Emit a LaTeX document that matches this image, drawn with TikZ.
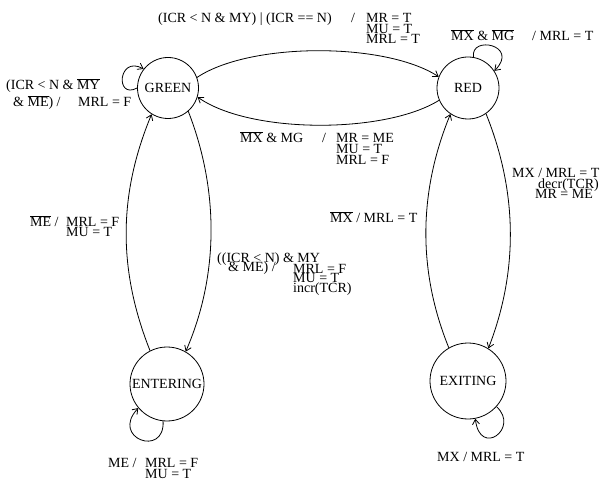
\documentclass[tikz,border=0pt]{standalone}
\usepackage{fontspec}
\setmainfont{Liberation Serif}
\usetikzlibrary{arrows.meta}
\newcommand\ovl[1]{$\overline{\mbox{#1}}$}
\begin{document}
\begin{tikzpicture}[x=1pt,y=-1pt,
  every node/.style={font=\fontsize{14}{14}\selectfont},
  state/.style={circle,draw,line width=0.8pt,inner sep=0pt},
  lbl/.style={anchor=base west,inner sep=0pt},
  edge/.style={line width=0.8pt,-{Straight Barb[length=5pt,width=7pt]}}]
\useasboundingbox (0,0) rectangle (608,481);

% states
\node[state,minimum size=61pt] (G) at (168,88) {GREEN};
\node[state,minimum size=62pt] (R) at (468,88) {RED};
\node[state,minimum size=74pt] (E) at (167,384) {ENTERING};
\node[state,minimum size=76pt] (X) at (468,381) {EXITING};

% transitions between states
\draw[edge] (G.20) .. controls (250,42) and (385,42) .. (R.159);
\draw[edge] (R.203) .. controls (385,134) and (250,134) .. (G.343);
\draw[edge] (G.311) .. controls (219,190) and (219,275) .. (E.60);
\draw[edge] (E.117) .. controls (118,270) and (118,195) .. (G.238);
\draw[edge] (R.305) .. controls (518,193) and (518,272) .. (X.58);
\draw[edge] (X.120) .. controls (418,272) and (418,193) .. (R.236);

% self loops
\draw[edge] (G.180) .. controls (115,100) and (118,55) .. (G.142);
\draw[edge] (R.80) .. controls (470,35) and (520,45) .. (R.33);
\draw[edge] (E.264) .. controls (165,458) and (110,438) .. (E.220);
\draw[edge] (X.318) .. controls (520,428) and (480,458) .. (X.281);

% GREEN -> RED
\node[lbl] (t1) at (158,23) {(ICR < N \& MY) | (ICR == N)};
\node[lbl] (t2) at (351,23) {/};
\node[lbl] (t3) at (366,23) {MR = T};
\node[lbl] (t4) at (366,33.5) {MU = T};
\node[lbl] (t5) at (366,44) {MRL = T};

% GREEN loop
\node[lbl] (g1) at (6,90) {(ICR < N \& \ovl{MY}};
\node[lbl] (g2) at (13,107) {\& \ovl{ME}) /};
\node[lbl] (g3) at (78,107) {MRL = F};

% RED loop
\node[lbl] (r1) at (451,41) {\ovl{MX} \& \ovl{MG}};
\node[lbl] (r2) at (532,41) {/ MRL = T};

% RED -> GREEN
\node[lbl] (b1) at (240,143) {\ovl{MX} \& MG};
\node[lbl] (b2) at (322,143) {/};
\node[lbl] (b3) at (336,143) {MR = ME};
\node[lbl] (b4) at (336,154) {MU = T};
\node[lbl] (b5) at (336,165) {MRL = F};

% ENTERING -> GREEN
\node[lbl] (l1) at (30,227) {\ovl{ME} /};
\node[lbl] (l2) at (66,227) {MRL = F};
\node[lbl] (l3) at (66,237) {MU = T};

% GREEN -> ENTERING
\node[lbl] (m1) at (217,262) {((ICR < N) \& MY};
\node[lbl] (m2) at (228,272) {\& ME) /};
\node[lbl] (m3) at (293,273) {MRL = F};
\node[lbl] (m4) at (293,283) {MU = T};
\node[lbl] (m5) at (293,293) {incr(TCR)};

% RED -> EXITING
\node[lbl] (x1) at (512,178) {MX / MRL = T};
\node[lbl] (x2) at (538,189) {decr(TCR)};
\node[lbl] (x3) at (535,199) {MR = ME};

% EXITING -> RED
\node[lbl] (y1) at (330,223) {\ovl{MX} / MRL = T};

% ENTERING loop
\node[lbl] (e1) at (108,467) {ME /};
\node[lbl] (e2) at (145,467) {MRL = F};
\node[lbl] (e3) at (145,478) {MU = T};

% EXITING loop
\node[lbl] (z1) at (437,461) {MX / MRL = T};
\end{tikzpicture}
\end{document}
